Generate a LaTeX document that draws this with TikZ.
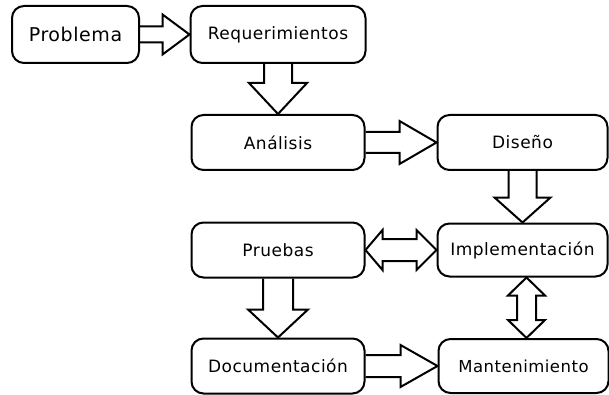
\documentclass[tikz,border=0pt]{standalone}
\usepackage{fontspec}
\setmainfont{DejaVu Sans}[LetterSpace=3]
\usetikzlibrary{calc}
\tikzset{
  box/.style={draw, line width=2pt, rounded corners=12pt, fill=white,
    minimum width=173pt, minimum height=55pt, inner sep=0pt,
    font=\fontsize{17}{20}\selectfont},
  blk/.style={draw, line width=2pt, line join=miter},
}
% block arrow from #1 to #2: shaft half-width #3, head half-width #4, head length #5
\newcommand\blockarrow[5]{%
  \draw[blk] ($(#1)!#3!-90:(#2)$)
    -- ($(#2)!#5!(#1)!#3!-90:(#2)$)
    -- ($(#2)!#5!(#1)!#4!-90:(#2)$)
    -- (#2)
    -- ($(#2)!#5!(#1)!#4!90:(#2)$)
    -- ($(#2)!#5!(#1)!#3!90:(#2)$)
    -- ($(#1)!#3!90:(#2)$);}
% two-headed block arrow: head lengths #5 (at #1) and #6 (at #2)
\newcommand\doublearrow[6]{%
  \draw[blk] (#1)
    -- ($(#1)!#5!(#2)!#4!90:(#2)$)
    -- ($(#1)!#5!(#2)!#3!90:(#2)$)
    -- ($(#2)!#6!(#1)!#3!90:(#2)$)
    -- ($(#2)!#6!(#1)!#4!90:(#2)$)
    -- (#2)
    -- ($(#2)!#6!(#1)!#4!-90:(#2)$)
    -- ($(#2)!#6!(#1)!#3!-90:(#2)$)
    -- ($(#1)!#5!(#2)!#3!-90:(#2)$)
    -- ($(#1)!#5!(#2)!#4!-90:(#2)$)
    -- cycle;}
\begin{document}
\begin{tikzpicture}[x=1pt,y=-1pt]
\useasboundingbox (0,0) rectangle (609,395);
% boxes
\node[box, minimum width=127pt, minimum height=57pt, font=\fontsize{19}{22}\selectfont] (prob) at (75.5,34.5) {Problema};
\node[box, minimum width=175pt, minimum height=57pt] (req) at (278,34.5) {Requerimientos};
\node[box] (ana) at (278,142.5) {Análisis};
\node[box, minimum width=170pt] (dis) at (522.5,142.5) {Diseño};
\node[box] (pru) at (278,250) {Pruebas};
\node[box, minimum width=170pt, minimum height=53pt] (impl) at (522.5,250) {Implementación};
\node[box] (doc) at (278,366) {Documentación};
\node[box, minimum width=170pt, minimum height=54pt, font=\fontsize{16.5}{19}\selectfont] (mant) at (523.5,366) {Mantenimiento};
% connectors
\blockarrow{prob.east}{req.west}{8pt}{20pt}{27pt}
\blockarrow{req.south}{ana.north}{14pt}{29pt}{31pt}
\blockarrow{ana.east}{dis.west}{10.5pt}{21.5pt}{37pt}
\blockarrow{dis.south}{impl.north}{14pt}{28pt}{25pt}
\doublearrow{pru.east}{impl.west}{11pt}{20pt}{17pt}{20pt}
\doublearrow{$(impl.south)+(4,0)$}{$(mant.north)+(3,0)$}{9.5pt}{18.5pt}{18pt}{18pt}
\blockarrow{pru.south}{doc.north}{15pt}{30pt}{28pt}
\blockarrow{doc.east}{mant.west}{11pt}{21pt}{37pt}
\end{tikzpicture}
\end{document}
